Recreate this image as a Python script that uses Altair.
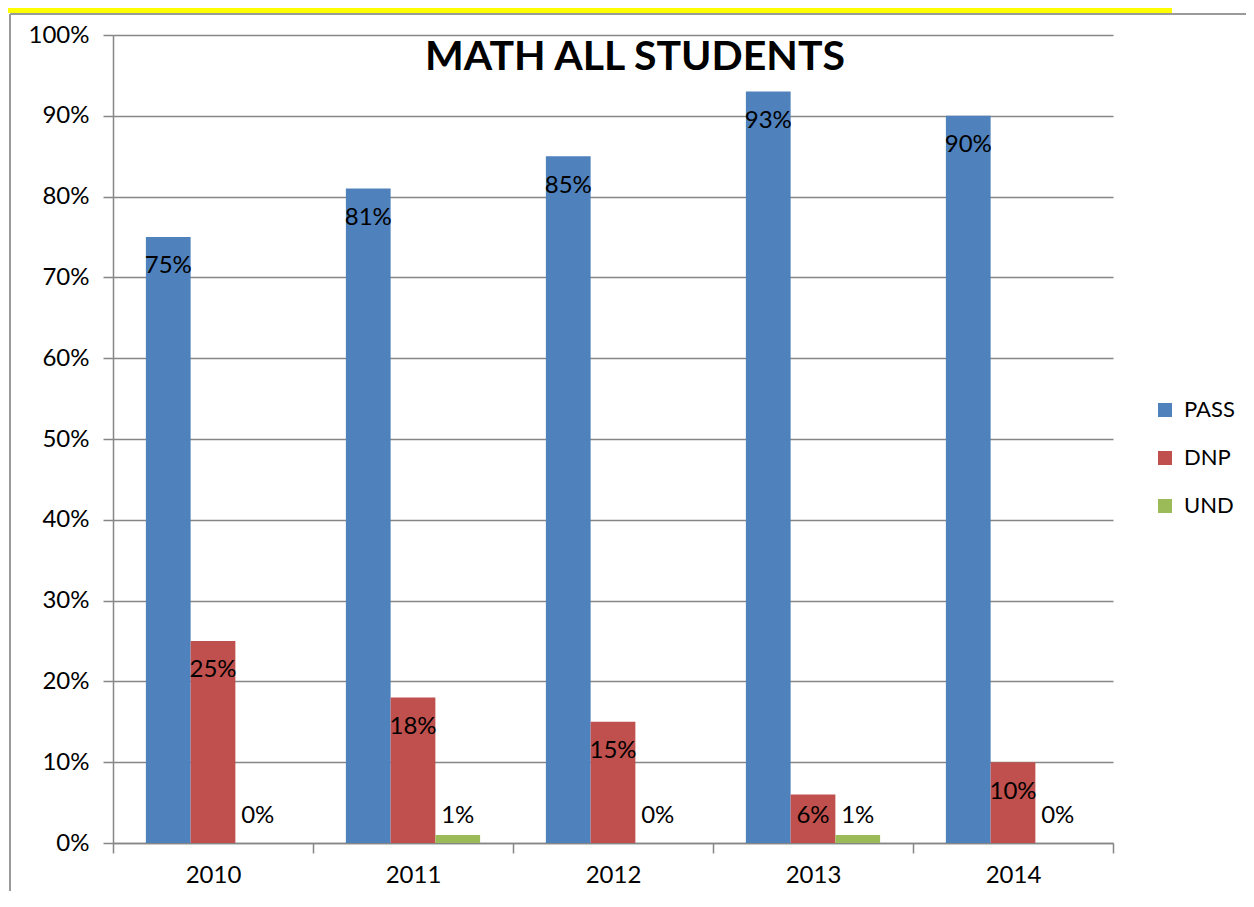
import altair as alt
import pandas as pd

years = ["2010", "2011", "2012", "2013", "2014"]
series = ["PASS", "DNP", "UND"]
pass_vals = [0.75, 0.81, 0.85, 0.93, 0.90]
dnp_vals = [0.25, 0.18, 0.15, 0.06, 0.10]
und_vals = [0.00, 0.01, 0.00, 0.01, 0.00]
colors = ["#4F81BD", "#C0504D", "#9BBB59"]
y_ticks = [0.0, 0.1, 0.2, 0.3, 0.4, 0.5, 0.6, 0.7, 0.8, 0.9, 1.0]
title_text = "MATH ALL STUDENTS"

rows = []
for s, vals in zip(series, [pass_vals, dnp_vals, und_vals]):
    for yr, v in zip(years, vals):
        rows.append({"year": yr, "series": s, "value": v})
df = pd.DataFrame(rows)

FONT = "Lato"
GRID = "#868686"

x_axis = alt.Axis(tickBand="extent", labelAngle=0, labelFontSize=24, labelFont=FONT,
                  labelColor="black", labelPadding=10, tickSize=10, tickColor=GRID,
                  domainColor=GRID, tickWidth=1.5, domainWidth=1.5, grid=False)
y_axis = alt.Axis(values=y_ticks, format=".0%", labelFontSize=24, labelFont=FONT,
                  labelColor="black", labelPadding=14, tickSize=10, tickColor=GRID,
                  tickWidth=1.5, domainColor=GRID, domainWidth=1.5, grid=True,
                  gridColor=GRID, gridWidth=1.5)

x_enc = alt.X("year:N", title=None, scale=alt.Scale(paddingInner=0, paddingOuter=0), axis=x_axis)
xo_enc = alt.XOffset("series:N", sort=series,
                     scale=alt.Scale(domain=series, paddingInner=0, paddingOuter=0.735))
y_scale = alt.Scale(domain=[0, 1], nice=False)

bars = alt.Chart(df).mark_bar().encode(
    x=x_enc,
    xOffset=xo_enc,
    y=alt.Y("value:Q", title=None, scale=y_scale, axis=y_axis),
    color=alt.Color("series:N", sort=series,
                    scale=alt.Scale(domain=series, range=colors),
                    legend=alt.Legend(title=None, orient="none", legendX=1041, legendY=364,
                                      symbolType="square", symbolSize=196,
                                      symbolStrokeWidth=0, labelFontSize=22,
                                      labelFont=FONT, labelColor="black",
                                      rowPadding=26, labelOffset=8, padding=0)),
)

labels = alt.Chart(df).transform_calculate(
    ly="max(datum.value - 0.0365, 0.0334)"
).mark_text(font=FONT, fontSize=24, baseline="middle", align="center", color="black").encode(
    x=x_enc,
    xOffset=xo_enc,
    y=alt.Y("ly:Q", title=None, scale=y_scale, axis=y_axis),
    text=alt.Text("value:Q", format=".0%"),
)

one = pd.DataFrame({"t": [title_text]})

title = alt.Chart(one).mark_text(font=FONT, fontSize=41, fontWeight="bold",
                                 baseline="middle", align="center", color="black").encode(
    x=alt.value(522), y=alt.value(23), text="t:N")

banner = alt.Chart(one).mark_rect(color="#FFFF00").encode(
    x=alt.value(-105), x2=alt.value(1059), y=alt.value(-27), y2=alt.value(-22))

left_border = alt.Chart(one).mark_rule(color="#9a9a9a", strokeWidth=2).encode(
    x=alt.value(-103), y=alt.value(-21), y2=alt.value(856))

top_border = alt.Chart(one).mark_rule(color="#9a9a9a", strokeWidth=2).encode(
    x=alt.value(-103), x2=alt.value(1133), y=alt.value(-21))

chart = alt.layer(banner, left_border, top_border, bars, labels, title).properties(
    width=1000, height=808,
    autosize=alt.AutoSizeParams(type="none"),
    padding={"left": 105, "top": 27, "right": 133, "bottom": 56},
).configure_view(stroke=None)

chart.save("out.html", embed_options={"renderer": "svg", "actions": False})
